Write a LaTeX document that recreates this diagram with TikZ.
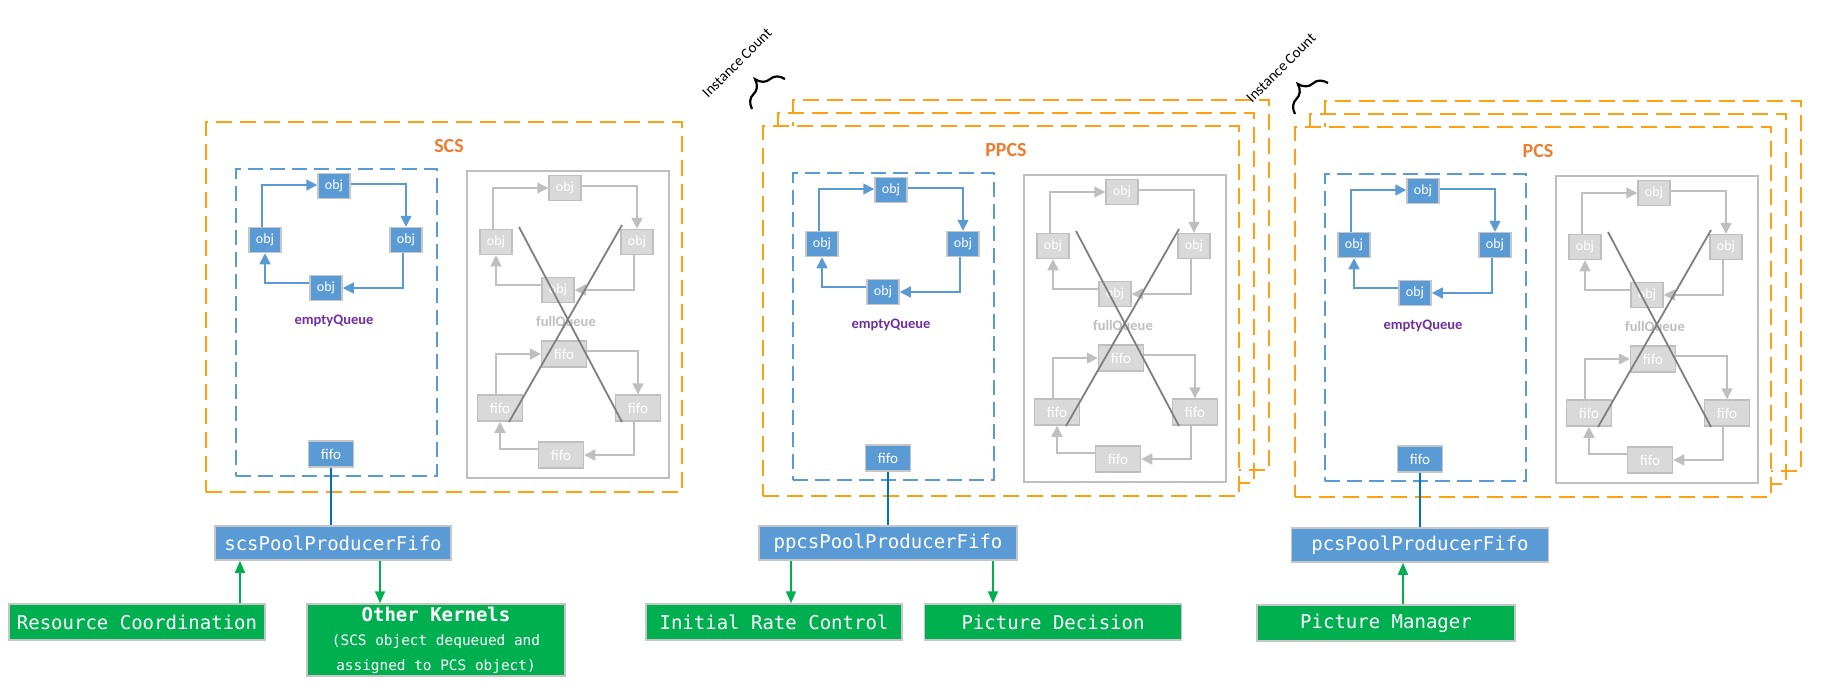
\documentclass[tikz,border=0pt]{standalone}
\usepackage{fontspec}
\setmainfont{Carlito}
\newfontfamily\monofont{DejaVu Sans Mono}
\usetikzlibrary{arrows.meta,decorations.pathreplacing}
\definecolor{boxblue}{HTML}{5B9BD5}
\definecolor{bordgray}{HTML}{C6C6C6}
\definecolor{ltgray}{HTML}{D9D9D9}
\definecolor{midgray}{HTML}{BFBFBF}
\definecolor{xgray}{HTML}{7F7F7F}
\definecolor{dorange}{HTML}{FFA010}
\definecolor{lorange}{HTML}{ED7D31}
\definecolor{qpurple}{HTML}{7030A0}
\definecolor{kgreen}{HTML}{00B050}
\definecolor{linkblue}{HTML}{0070C0}
\tikzset{
  objb/.style={draw=bordgray, line width=1.5pt, fill=boxblue, text=white,
    minimum width=32pt, minimum height=25pt, inner sep=0pt,
    font=\fontsize{14}{16}\selectfont},
  fifob/.style={objb, minimum width=45pt, minimum height=26pt,
    font=\fontsize{15}{17}\selectfont},
  objg/.style={objb, fill=ltgray, draw=midgray},
  fifog/.style={fifob, fill=ltgray, draw=midgray},
  barrow/.style={draw=boxblue, line width=1.5pt, -{Triangle[length=11pt,width=11pt]}},
  gyarrow/.style={draw=midgray, line width=1.5pt, -{Triangle[length=11pt,width=11pt]}},
  grarrow/.style={draw=kgreen, line width=1.5pt, -{Triangle[length=12pt,width=10pt]}},
  orangebox/.style={draw=dorange, line width=2pt, dash pattern=on 16pt off 8pt,
    minimum width=476pt, minimum height=370pt, inner sep=0pt},
  bluedbox/.style={draw=boxblue, line width=1.5pt, dash pattern=on 15pt off 7pt,
    minimum width=201pt, minimum height=307pt, inner sep=0pt},
  grayfbox/.style={draw=midgray, line width=1.5pt,
    minimum width=202pt, minimum height=307pt, inner sep=0pt},
  grouplabel/.style={text=lorange, font=\fontsize{20}{22}\selectfont\bfseries},
  queuelabel/.style={font=\fontsize{14.5}{16}\selectfont\bfseries},
  poolbox/.style={draw=bordgray, line width=1.5pt, fill=boxblue, text=white,
    minimum height=34pt, inner sep=0pt, font=\monofont\fontsize{19}{22}\selectfont},
  kernbox/.style={draw=bordgray, line width=1.5pt, fill=kgreen, text=white,
    minimum height=36pt, inner sep=0pt, font=\monofont\fontsize{19}{22}\selectfont},
  xline/.style={draw=xgray, line width=1.8pt},
  link/.style={draw=linkblue, line width=1.8pt},
  instlabel/.style={rotate=45, font=\fontsize{15}{17}\selectfont},
  bracestyle/.style={draw=black, line width=2.2pt, decorate,
    decoration={brace, amplitude=20pt}},
}
\newcommand\drawgroup[4]{%
\begin{scope}[shift={(#2,#3)}]
  \node[orangebox, fill=white] (#1-box) at (444,307) {};
  \node[grouplabel] (#1-lab) at (449,146) {#4};
  % empty queue
  \node[bluedbox] (#1-eq) at (336.5,322.5) {};
  \node[objb] (#1-bt) at (334,186) {obj};
  \node[objb] (#1-bl) at (265,240) {obj};
  \node[objb] (#1-br) at (406,240) {obj};
  \node[objb] (#1-bb) at (326,288) {obj};
  \draw[barrow] ([xshift=-3pt]#1-bl.north) |- ([yshift=1pt]#1-bt.west);
  \draw[barrow] ([yshift=2pt]#1-bt.east) -| (#1-br.north);
  \draw[barrow] ([xshift=-3pt]#1-br.south) |- (#1-bb.east);
  \draw[barrow] ([yshift=5pt]#1-bb.west) -| (#1-bl.south);
  \node[queuelabel, text=qpurple] (#1-eql) at (334,321) {emptyQueue};
  \node[fifob] (#1-fifo) at (331,454) {fifo};
  % full queue
  \node[grayfbox] (#1-fq) at (568,324.5) {};
  \node[objg] (#1-gt) at (565,188) {obj};
  \node[objg] (#1-gl) at (496,242) {obj};
  \node[objg] (#1-gr) at (637,242) {obj};
  \node[objg] (#1-gb) at (558,290) {obj};
  \draw[gyarrow] ([xshift=-3pt]#1-gl.north) |- (#1-gt.west);
  \draw[gyarrow] ([yshift=2pt]#1-gt.east) -| (#1-gr.north);
  \draw[gyarrow] ([xshift=-3pt]#1-gr.south) |- (#1-gb.east);
  \draw[gyarrow] ([yshift=5pt]#1-gb.west) -| (#1-gl.south);
  \node[queuelabel, text=midgray] (#1-fql) at (566,322) {fullQueue};
  \node[fifog] (#1-ft) at (564,354) {fifo};
  \node[fifog] (#1-fl) at (500,408) {fifo};
  \node[fifog] (#1-fr) at (638,408) {fifo};
  \node[fifog] (#1-fb) at (561,455) {fifo};
  \draw[gyarrow] ([xshift=-4pt]#1-fl.north) |- (#1-ft.west);
  \draw[gyarrow] ([yshift=3pt]#1-ft.east) -| (#1-fr.north);
  \draw[gyarrow] ([xshift=-4pt]#1-fr.south) |- (#1-fb.east);
  \draw[gyarrow] ([yshift=6pt]#1-fb.west) -| (#1-fl.south);
  \coordinate (#1-x1a) at (519,227);
  \coordinate (#1-x1b) at (622,422);
  \coordinate (#1-x2a) at (622,225);
  \coordinate (#1-x2b) at (509,422);
  \draw[xline] (#1-x1a) -- (#1-x1b);
  \draw[xline] (#1-x2a) -- (#1-x2b);
\end{scope}}
\begin{document}
\begin{tikzpicture}[x=1pt,y=-1pt]
\useasboundingbox[fill=white] (0,0) rectangle (1823,691);
% SCS
\drawgroup{scs}{0}{0}{SCS}
% PPCS stack
\begin{scope}[shift={(587,-22)}]
  \node[orangebox] (ppcs-back) at (444,307) {};
\end{scope}
\begin{scope}[shift={(572,-9)}]
  \node[orangebox] (ppcs-mid) at (444,307) {};
\end{scope}
\drawgroup{ppcs}{557}{4}{PPCS}
% PCS stack
\begin{scope}[shift={(1119,-21)}]
  \node[orangebox] (pcs-back) at (444,307) {};
\end{scope}
\begin{scope}[shift={(1104,-8)}]
  \node[orangebox] (pcs-mid) at (444,307) {};
\end{scope}
\drawgroup{pcs}{1089}{5}{PCS}
% instance counts
\node[instlabel] (ic1) at (737,63) {Instance Count};
\node[instlabel] (ic2) at (1281,68) {Instance Count};
\coordinate (br1a) at (752,109);
\coordinate (br1b) at (785,79);
\coordinate (br2a) at (1295,114);
\coordinate (br2b) at (1328,83);
\draw[bracestyle] (br1a) -- (br1b);
\draw[bracestyle] (br2a) -- (br2b);
% bottom nodes
\node[poolbox, minimum width=236pt] (scspool) at (333,543) {scsPoolProducerFifo};
\node[kernbox, minimum width=256pt] (rc) at (137,622) {Resource Coordination};
\node[kernbox, minimum width=258pt, minimum height=72pt, align=center] (ok) at (436,640)
  {{\bfseries Other Kernels}\\[2pt]
   {\fontsize{14.4}{24}\selectfont (SCS object dequeued and}\\[3pt]
   {\fontsize{14.4}{24}\selectfont assigned to PCS object)}};
\node[poolbox, minimum width=258pt] (ppcspool) at (888,543) {ppcsPoolProducerFifo};
\node[kernbox, minimum width=256pt] (irc) at (774,622) {Initial Rate Control};
\node[kernbox, minimum width=257pt] (pd) at (1053,622) {Picture Decision};
\node[poolbox, minimum width=257pt] (pcspool) at (1420,545) {pcsPoolProducerFifo};
\node[kernbox, minimum width=258pt] (pm) at (1386,623) {Picture Manager};
% links
\draw[link] (scs-fifo.south) -- (scs-fifo.south |- scspool.north);
\draw[link] (ppcs-fifo.south) -- (ppcs-fifo.south |- ppcspool.north);
\draw[link] (pcs-fifo.south) -- (pcs-fifo.south |- pcspool.north);
\draw[grarrow] ([xshift=103pt]rc.north) -- ([xshift=103pt]rc.north |- scspool.south);
\draw[grarrow] ([xshift=47pt]scspool.south) -- ([xshift=47pt]scspool.south |- ok.north);
\draw[grarrow] ([xshift=17pt]irc.north |- ppcspool.south) -- ([xshift=17pt]irc.north);
\draw[grarrow] ([xshift=-60pt]pd.north |- ppcspool.south) -- ([xshift=-60pt]pd.north);
\draw[grarrow] ([xshift=17pt]pm.north) -- ([xshift=17pt]pm.north |- pcspool.south);
\end{tikzpicture}
\end{document}
